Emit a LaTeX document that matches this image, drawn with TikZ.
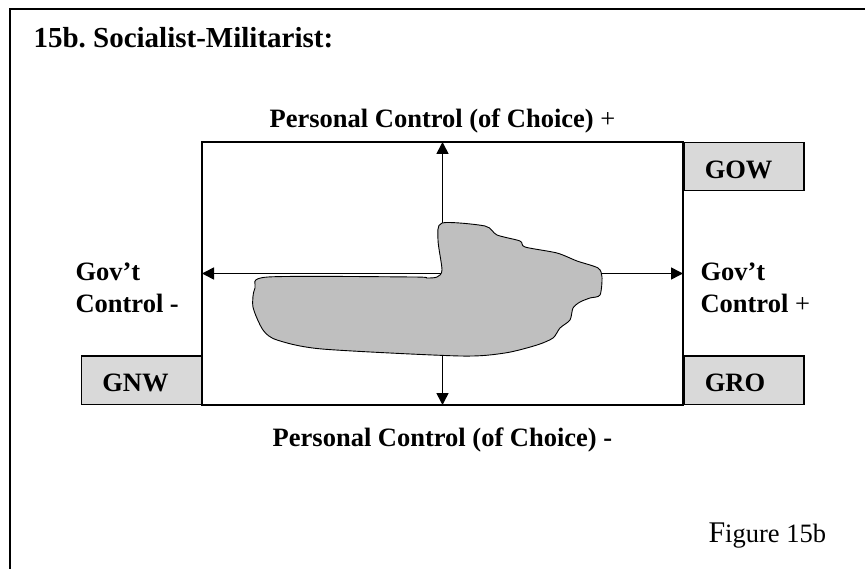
\documentclass[tikz,border=0pt]{standalone}
\usepackage{fontspec}
\setmainfont{Liberation Serif}
\usetikzlibrary{arrows.meta}
\frenchspacing

\tikzset{
  lbl/.style={font=\fontsize{26.5}{32}\selectfont\bfseries},
  tag/.style={draw, line width=1.5pt, fill=black!15, minimum height=48pt,
    text width=78pt, inner xsep=21pt, text height=23pt, align=left,
    font=\fontsize{26.5}{32}\selectfont\bfseries},
  axis/.style={line width=1.6pt, {Triangle[length=12pt,width=12pt]}-{Triangle[length=12pt,width=12pt]}}
}

\begin{document}
\begin{tikzpicture}[x=1pt,y=-1pt]
    \useasboundingbox (0,0) rectangle (865,569);
    \draw[line width=2pt] (10,569) -- (10,9) -- (865,9);

    \node[anchor=base west, font=\fontsize{29}{34}\selectfont\bfseries] (title) at (30,48) {15b. Socialist-Militarist:};

    \node[draw, line width=1.8pt, minimum width=481pt, minimum height=263pt, inner sep=0pt, outer sep=0pt] (quad) at (442.5,273.5) {};

    \node[tag, anchor=north west] (gow) at (quad.north east) {GOW};
    \node[tag, anchor=south west] (gro) at (quad.south east) {GRO};
    \node[tag, anchor=south east] (gnw) at (quad.south west) {GNW};

    \node[lbl, anchor=base] (pctop) at (442.5,128) {Personal Control (of Choice) \textmd{+}};
    \node[lbl, anchor=base] (pcbot) at (442.5,446) {Personal Control (of Choice) -};
    \node[lbl, anchor=west, align=left] (gcneg) at (72,288) {Gov't\\Control -};
    \node[lbl, anchor=west, align=left] (gcpos) at (697,288) {Gov't\\Control \textmd{+}};

    \draw[axis] (quad.south) -- (quad.north);
    \draw[axis] (quad.west) -- (quad.east);

    \draw[line width=0.9pt, fill=black!25] plot[smooth cycle, tension=0.45] coordinates {
      (442,223) (485,226) (497,235) (520,241) (525,247) (557,253) (577,261)
      (598,268) (602,277) (600,295) (590,298) (580,302) (573,308) (570,320)
      (560,328) (553,338) (537,345) (505,353) (460,356) (322,349) (277,340)
      (263,330) (253,307) (255,288) (268,277) (413,277) (427,278) (437,277)
      (442,270) (438,240)};

    \node[anchor=base west, font=\fontsize{26.5}{32}\selectfont] (fig) at (705,542) {{\fontsize{30}{32}\selectfont F}igure 15b};
\end{tikzpicture}
\end{document}
